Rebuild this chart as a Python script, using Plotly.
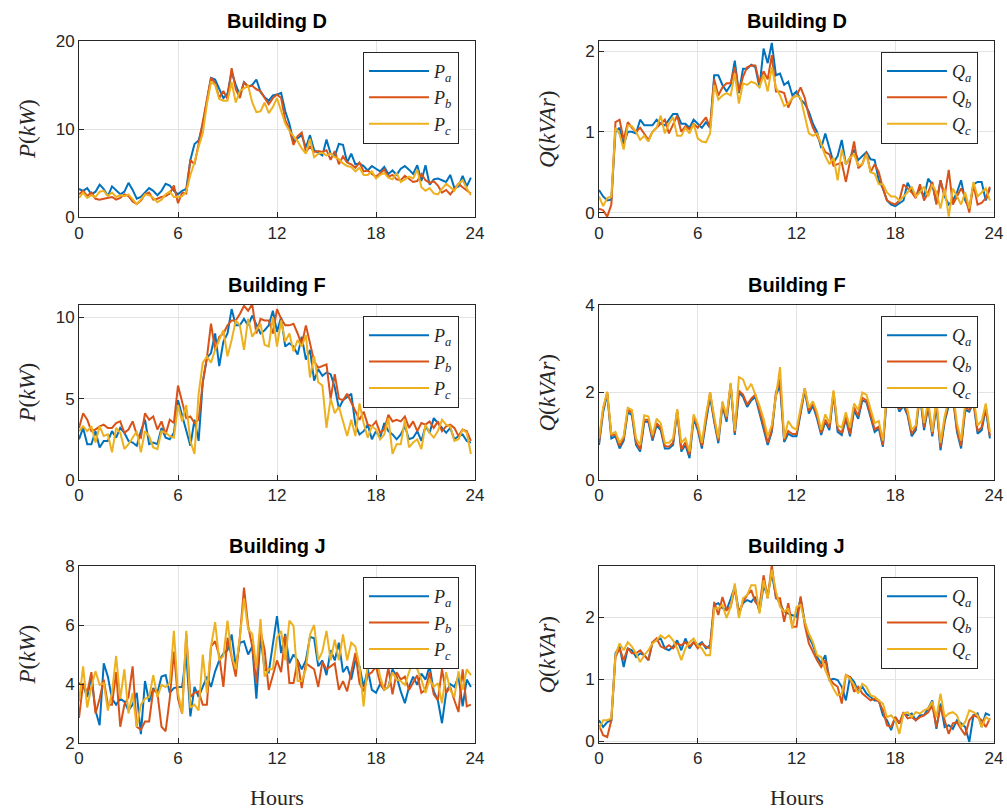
import plotly.graph_objects as go

hours = [i * 0.25 for i in range(96)]

# ---------------- Building D ----------------
pa_d = [3.2, 3.0, 3.3, 2.6, 2.9, 3.7, 3.2, 2.4, 3.5, 3.0, 2.6, 2.9, 3.9, 3.1, 2.1, 2.3, 2.8, 3.3, 3.0, 2.5, 3.0, 3.8, 3.6, 3.0,
        2.6, 3.0, 3.2, 6.5, 8.3, 8.7, 10.5, 13.0, 15.8, 15.6, 14.5, 13.5, 14.0, 16.5, 15.0, 13.8, 15.3, 14.8, 15.0, 15.6, 14.2, 13.6, 13.2, 13.8,
        13.9, 14.1, 12.0, 10.6, 8.6, 8.9, 9.3, 7.9, 9.3, 7.6, 7.3, 7.0, 8.8, 7.2, 6.9, 8.3, 8.2, 6.2, 7.2, 6.0, 6.1, 5.8, 5.3, 5.8,
        5.5, 5.2, 5.7, 4.9, 5.3, 4.8, 5.5, 5.8, 5.4, 4.9, 5.9, 4.1, 5.9, 3.7, 4.3, 4.4, 4.2, 4.0, 4.8, 3.3, 3.5, 4.7, 3.5, 4.5]
pb_d = [2.6, 3.0, 2.4, 2.8, 2.1, 2.0, 2.1, 2.2, 2.3, 2.0, 2.2, 2.6, 2.4, 1.8, 1.5, 1.9, 2.6, 2.8, 2.0, 2.1, 2.3, 2.4, 2.7, 3.6,
        1.6, 2.8, 2.7, 6.5, 6.0, 8.3, 10.8, 13.5, 15.8, 15.2, 13.5, 14.3, 13.4, 16.9, 14.5, 13.5, 15.3, 14.8, 14.9, 14.5, 14.3, 13.5, 12.8, 13.5,
        13.9, 13.5, 11.0, 10.0, 8.2, 9.2, 9.6, 7.4, 8.0, 7.4, 7.5, 7.4, 7.6, 6.5, 7.5, 6.0, 6.9, 6.2, 6.0, 5.6, 6.2, 5.2, 5.3, 4.9,
        4.6, 5.0, 5.4, 4.6, 4.8, 4.3, 4.2, 4.7, 4.3, 4.0, 4.1, 4.9, 4.2, 3.9, 4.1, 3.6, 2.8, 3.1, 2.6, 3.2, 3.8, 3.4, 3.1, 2.7]
pc_d = [2.2, 2.8, 2.2, 2.5, 2.3, 2.9, 3.0, 2.4, 2.8, 2.3, 2.5, 2.4, 2.6, 2.0, 1.5, 2.0, 2.6, 2.5, 2.2, 1.7, 2.0, 2.6, 2.9, 2.3,
        2.3, 2.4, 2.9, 4.8, 6.2, 8.0, 9.5, 12.8, 15.3, 15.0, 13.4, 13.2, 13.2, 15.3, 13.0, 14.3, 14.6, 14.9, 13.0, 11.9, 12.0, 13.0, 11.8, 12.5,
        13.5, 12.0, 10.6, 9.8, 9.2, 8.6, 7.8, 7.2, 8.9, 6.8, 7.2, 7.3, 7.0, 7.2, 6.8, 6.6, 6.1, 5.8, 5.7, 5.2, 5.6, 4.8, 4.8, 5.2,
        4.4, 4.8, 5.0, 4.5, 4.3, 5.0, 4.0, 4.3, 4.6, 4.4, 5.4, 3.4, 3.0, 3.3, 2.7, 2.6, 3.2, 3.8, 3.4, 3.0, 3.8, 4.2, 3.3, 2.5]
qa_d = [0.28, 0.20, 0.15, 0.16, 1.00, 1.05, 0.85, 1.00, 1.00, 0.98, 1.15, 1.08, 1.08, 1.08, 1.15, 1.10, 1.08, 1.15, 1.22, 1.22, 1.10, 1.10, 1.05, 1.15,
        1.10, 1.05, 1.12, 1.05, 1.70, 1.70, 1.58, 1.50, 1.58, 1.88, 1.48, 1.78, 1.78, 1.83, 1.80, 1.55, 2.03, 1.85, 2.10, 1.70, 1.72, 1.58, 1.62, 1.45,
        1.50, 1.40, 1.35, 1.25, 1.10, 1.00, 0.80, 0.98, 0.80, 0.62, 0.70, 0.90, 0.60, 0.68, 0.78, 0.65, 0.70, 0.75, 0.66, 0.65, 0.40, 0.30, 0.15, 0.10,
        0.08, 0.12, 0.15, 0.37, 0.27, 0.20, 0.30, 0.20, 0.42, 0.35, 0.12, 0.40, 0.20, 0.10, 0.15, 0.25, 0.40, 0.15, 0.05, 0.35, 0.38, 0.38, 0.15, 0.30]
qb_d = [0.05, 0.03, -0.05, 0.10, 1.12, 1.15, 0.90, 1.12, 1.05, 1.00, 1.05, 0.98, 0.90, 1.00, 1.05, 1.10, 1.15, 0.98, 1.10, 1.20, 1.00, 1.07, 1.03, 1.10,
        1.05, 1.12, 1.18, 1.05, 1.65, 1.45, 1.55, 1.60, 1.60, 1.80, 1.50, 1.68, 1.80, 1.82, 1.82, 1.60, 1.75, 1.65, 1.95, 1.50, 1.50, 1.48, 1.30, 1.42,
        1.45, 1.55, 1.42, 1.20, 1.05, 0.95, 0.85, 0.75, 0.72, 0.58, 0.60, 0.62, 0.38, 0.65, 0.88, 0.55, 0.60, 0.75, 0.50, 0.60, 0.50, 0.30, 0.15, 0.12,
        0.10, 0.15, 0.35, 0.30, 0.25, 0.18, 0.35, 0.15, 0.25, 0.38, 0.10, 0.40, 0.20, 0.53, 0.10, 0.20, 0.30, 0.20, 0.00, 0.35, 0.10, 0.12, 0.18, 0.32]
qc_d = [0.20, 0.08, 0.18, 0.20, 1.05, 0.97, 0.78, 1.08, 1.07, 1.00, 0.90, 0.95, 0.88, 1.00, 1.05, 1.20, 0.98, 1.10, 1.18, 0.95, 0.95, 1.05, 0.98, 1.10,
        0.92, 0.88, 0.87, 0.98, 1.58, 1.40, 1.45, 1.48, 1.45, 1.72, 1.35, 1.60, 1.58, 1.62, 1.60, 1.55, 1.70, 1.50, 1.80, 1.55, 1.45, 1.32, 1.35, 1.42,
        1.45, 1.42, 1.20, 0.98, 0.95, 0.98, 0.85, 0.70, 0.60, 0.68, 0.40, 0.78, 0.60, 0.68, 0.72, 0.58, 0.60, 0.72, 0.50, 0.48, 0.35, 0.35, 0.25, 0.20,
        0.20, 0.15, 0.20, 0.25, 0.32, 0.20, 0.25, 0.32, 0.20, 0.35, 0.25, 0.05, 0.30, -0.05, 0.30, 0.20, 0.10, 0.25, 0.05, 0.38, 0.20, 0.25, 0.30, 0.15]

# ---------------- Building F ----------------
pa_f = [2.5, 3.2, 2.2, 2.2, 3.0, 2.0, 2.4, 2.4, 3.0, 2.6, 3.2, 2.9, 2.4, 2.3, 2.1, 3.0, 3.7, 2.2, 2.3, 2.2, 3.2, 2.6, 2.5, 2.9,
        4.9, 4.0, 3.0, 2.1, 3.7, 2.4, 6.0, 7.5, 7.8, 9.0, 7.0, 8.5, 9.0, 10.5, 9.5, 9.5, 9.9, 9.5, 10.1, 9.6, 9.0, 9.2, 9.5, 10.4,
        9.1, 10.0, 8.2, 8.4, 8.2, 7.7, 8.8, 7.4, 8.0, 6.1, 6.8, 6.4, 6.6, 6.5, 5.7, 4.4, 4.9, 5.1, 5.3, 3.4, 2.8, 3.0, 3.4, 2.5,
        3.0, 2.6, 3.5, 3.0, 2.8, 2.5, 2.8, 3.3, 2.5, 2.6, 3.0, 2.4, 3.3, 2.9, 3.8, 3.5, 3.2, 2.9, 3.2, 2.5, 2.7, 2.8, 2.4, 2.3]
pb_f = [3.2, 4.1, 3.7, 3.0, 3.1, 3.3, 3.4, 3.2, 3.2, 3.5, 3.6, 2.9, 3.1, 3.6, 2.8, 2.6, 4.1, 3.7, 3.9, 3.1, 3.6, 2.8, 3.7, 3.5,
        5.8, 4.8, 3.8, 3.9, 3.5, 3.7, 6.0, 7.5, 9.6, 8.0, 8.8, 9.0, 9.5, 9.8, 9.8, 10.2, 10.7, 10.4, 10.8, 9.0, 9.9, 9.8, 9.8, 9.0,
        10.5, 9.9, 9.5, 9.5, 9.6, 9.0, 8.3, 9.5, 8.3, 7.3, 6.9, 7.0, 7.1, 5.0, 6.5, 5.0, 4.9, 5.3, 4.8, 4.2, 3.7, 4.2, 3.4, 3.3,
        3.6, 2.9, 3.1, 4.0, 3.6, 3.7, 3.6, 3.9, 3.2, 3.6, 3.0, 3.5, 3.4, 3.6, 3.2, 3.6, 3.0, 3.3, 3.4, 3.2, 2.7, 3.1, 3.0, 2.4]
pc_f = [3.0, 3.3, 3.0, 3.3, 2.3, 3.3, 2.7, 2.8, 1.7, 3.2, 2.9, 1.9, 2.2, 2.6, 3.0, 1.7, 3.0, 2.7, 2.0, 1.9, 3.0, 2.9, 2.7, 2.6,
        4.6, 3.6, 4.6, 2.4, 1.6, 5.3, 7.2, 7.6, 7.2, 8.0, 8.6, 9.2, 7.6, 8.6, 9.8, 9.5, 8.0, 9.9, 8.8, 9.2, 9.6, 8.3, 8.2, 10.0,
        8.2, 9.8, 8.5, 9.0, 7.9, 8.6, 8.2, 8.9, 6.3, 7.6, 6.0, 5.8, 3.2, 5.0, 4.1, 4.5, 3.6, 2.7, 3.7, 2.7, 4.7, 3.5, 2.6, 3.3,
        3.1, 2.5, 2.8, 3.8, 1.6, 2.2, 2.2, 3.7, 2.0, 2.3, 2.5, 1.9, 3.4, 2.9, 2.6, 3.0, 3.7, 3.4, 3.3, 2.4, 2.5, 3.1, 2.9, 1.6]
qa_f = [0.80, 1.55, 1.97, 0.95, 1.00, 0.72, 0.90, 1.55, 1.48, 0.80, 0.65, 1.33, 1.33, 0.90, 1.25, 1.14, 0.72, 0.72, 0.80, 1.57, 0.65, 0.80, 0.50, 1.40,
        1.14, 0.72, 1.33, 1.90, 1.33, 0.84, 1.70, 1.33, 2.16, 1.03, 2.00, 1.90, 1.67, 1.82, 1.90, 1.55, 1.18, 0.80, 1.10, 1.94, 2.16, 0.87, 1.06, 1.00,
        1.00, 1.50, 2.05, 1.52, 1.70, 1.40, 1.03, 1.33, 1.14, 1.98, 1.10, 1.03, 1.40, 1.00, 1.60, 1.40, 1.82, 1.78, 1.44, 1.10, 1.18, 0.76, 1.94, 2.20,
        1.86, 1.56, 1.70, 1.48, 1.00, 1.14, 1.94, 1.14, 1.67, 1.00, 1.70, 0.68, 1.33, 1.70, 1.90, 1.10, 0.72, 1.60, 1.56, 1.78, 1.06, 1.14, 1.63, 0.95]
qb_f = [0.85, 1.62, 2.00, 1.02, 1.04, 0.78, 0.95, 1.62, 1.53, 0.86, 0.70, 1.38, 1.38, 0.95, 1.30, 1.20, 0.78, 0.76, 0.85, 1.60, 0.70, 0.86, 0.58, 1.45,
        1.20, 0.78, 1.40, 2.00, 1.38, 0.90, 1.75, 1.40, 2.20, 1.08, 2.04, 1.95, 1.72, 1.86, 1.95, 1.62, 1.25, 0.85, 1.15, 2.00, 2.30, 0.92, 1.12, 1.05,
        1.05, 1.55, 2.10, 1.58, 1.75, 1.46, 1.08, 1.38, 1.20, 2.02, 1.16, 1.08, 1.45, 1.05, 1.66, 1.46, 1.88, 1.82, 1.50, 1.16, 1.22, 0.80, 2.00, 2.25,
        1.90, 1.62, 1.75, 1.52, 1.05, 1.20, 2.00, 1.20, 1.72, 1.05, 1.76, 0.75, 1.38, 1.76, 1.95, 1.16, 0.78, 1.66, 1.60, 1.84, 1.12, 1.20, 1.70, 1.00]
qc_f = [0.95, 1.65, 2.02, 1.05, 1.10, 0.85, 1.00, 1.65, 1.60, 0.95, 0.80, 1.48, 1.45, 1.02, 1.40, 1.30, 0.85, 0.85, 0.95, 1.62, 0.85, 0.95, 0.65, 1.50,
        1.28, 0.85, 1.50, 2.00, 1.45, 0.95, 1.80, 1.45, 2.22, 1.12, 2.35, 2.30, 2.05, 2.20, 1.95, 1.70, 1.40, 1.00, 1.25, 1.95, 2.58, 0.95, 1.35, 1.20,
        1.15, 1.65, 2.10, 1.65, 1.80, 1.55, 1.15, 1.50, 1.30, 2.05, 1.25, 1.20, 1.55, 1.20, 1.75, 1.60, 2.00, 1.95, 1.62, 1.30, 1.35, 0.90, 2.05, 2.35,
        2.00, 1.70, 1.85, 1.60, 1.15, 1.25, 2.05, 1.30, 1.80, 1.10, 1.85, 0.85, 1.45, 1.85, 2.00, 1.30, 0.90, 1.75, 1.70, 1.90, 1.25, 1.35, 1.75, 1.10]

# ---------------- Building J ----------------
pa_j = [4.03, 3.95, 3.56, 4.25, 3.1, 2.6, 4.7, 4.25, 3.5, 3.3, 3.5, 3.4, 3.1, 3.3, 3.7, 2.3, 4.1, 3.4, 3.86, 3.7, 4.25, 4.3, 3.7, 3.86,
        3.9, 3.9, 5.03, 2.9, 3.9, 3.56, 3.9, 4.25, 3.9, 4.43, 4.8, 5.03, 5.15, 5.68, 4.6, 5.4, 5.45, 5.0, 5.27, 3.5, 5.6, 4.5, 4.4, 5.4,
        6.3, 5.05, 5.7, 4.7, 5.0, 4.8, 4.5, 4.8, 5.6, 5.55, 4.6, 4.8, 4.3, 5.15, 4.8, 5.4, 4.4, 4.6, 4.15, 4.8, 4.6, 3.9, 4.5, 3.8,
        3.7, 4.0, 3.8, 3.9, 4.5, 4.25, 3.75, 3.35, 3.9, 4.25, 3.97, 4.35, 4.15, 4.6, 3.75, 3.45, 2.67, 3.7, 4.0, 3.9, 4.25, 3.24, 4.15, 3.9]
pb_j = [2.85, 4.03, 3.7, 4.4, 3.0, 3.5, 4.15, 3.3, 3.3, 4.4, 2.55, 3.3, 3.56, 4.6, 2.55, 2.45, 2.73, 2.73, 3.8, 3.7, 2.55, 2.4, 3.5, 5.1,
        3.5, 3.0, 5.7, 3.56, 3.7, 3.75, 3.3, 3.3, 5.27, 5.45, 4.95, 3.9, 5.57, 4.95, 4.25, 5.6, 7.27, 5.97, 5.27, 4.03, 5.8, 5.15, 3.8, 4.3,
        4.8, 4.4, 5.65, 4.03, 4.03, 4.8, 3.86, 4.7, 4.6, 4.5, 3.9, 4.75, 4.5, 4.6, 4.7, 3.8, 4.1, 3.75, 4.4, 5.05, 4.03, 3.75, 4.3, 4.4,
        4.6, 4.03, 3.8, 4.55, 3.65, 4.4, 4.15, 4.25, 3.8, 4.03, 4.3, 3.7, 3.8, 4.4, 3.65, 3.45, 4.5, 3.7, 3.9, 3.45, 3.05, 4.5, 3.24, 3.3]
pc_j = [3.4, 4.6, 3.2, 3.9, 4.43, 3.97, 4.03, 3.1, 3.7, 4.95, 3.5, 4.5, 3.0, 3.7, 2.55, 3.3, 3.5, 3.56, 4.3, 3.56, 3.97, 3.9, 4.03, 5.8,
        3.7, 3.0, 5.8, 3.2, 3.3, 3.1, 5.0, 3.7, 5.27, 6.1, 4.8, 4.95, 6.15, 4.95, 4.5, 5.6, 6.9, 5.85, 5.7, 4.55, 6.2, 4.25, 4.5, 4.5,
        5.57, 5.8, 4.8, 6.15, 5.97, 4.1, 4.1, 4.5, 5.68, 6.0, 4.8, 5.1, 5.8, 4.8, 5.5, 4.8, 5.68, 4.8, 5.4, 5.27, 4.6, 3.24, 4.7, 4.8,
        4.95, 4.25, 3.8, 3.9, 4.4, 4.15, 4.1, 3.97, 4.4, 4.8, 4.5, 4.15, 3.7, 4.15, 3.9, 4.03, 3.35, 4.4, 3.8, 3.56, 4.43, 3.8, 4.5, 4.3]
qa_j = [0.34, 0.23, 0.31, 0.34, 1.42, 1.53, 1.2, 1.5, 1.47, 1.36, 1.42, 1.39, 1.31, 1.6, 1.63, 1.66, 1.5, 1.47, 1.53, 1.63, 1.47, 1.66, 1.5, 1.6,
        1.55, 1.6, 1.5, 1.55, 2.2, 2.23, 2.15, 2.12, 2.3, 2.5, 2.09, 2.23, 2.28, 2.25, 2.33, 2.09, 2.5, 2.36, 2.71, 2.33, 2.23, 2.09, 2.06, 2.04,
        2.01, 2.31, 1.93, 1.69, 1.55, 1.36, 1.26, 1.39, 0.99, 1.01, 0.99, 0.88, 0.66, 1.04, 0.96, 0.8, 0.88, 0.77, 0.72, 0.66, 0.66, 0.42, 0.34, 0.18,
        0.39, 0.29, 0.45, 0.42, 0.45, 0.34, 0.42, 0.42, 0.53, 0.66, 0.2, 0.61, 0.23, 0.26, 0.2, 0.34, 0.29, 0.23, -0.01, 0.42, 0.45, 0.23, 0.45, 0.42]
qb_j = [0.26, 0.1, 0.07, 0.34, 1.36, 1.5, 1.31, 1.5, 1.42, 1.42, 1.47, 1.39, 1.31, 1.6, 1.66, 1.53, 1.5, 1.55, 1.5, 1.58, 1.55, 1.6, 1.53, 1.6,
        1.5, 1.58, 1.53, 1.5, 2.25, 2.04, 2.33, 2.12, 2.17, 2.47, 2.04, 2.25, 2.36, 2.44, 2.25, 2.17, 2.68, 2.31, 2.85, 2.31, 2.31, 1.93, 2.23, 1.85,
        1.85, 2.34, 1.88, 1.58, 1.44, 1.31, 1.2, 1.31, 1.01, 0.93, 0.88, 0.61, 1.07, 1.04, 0.8, 0.88, 0.77, 0.72, 0.66, 0.69, 0.64, 0.5, 0.26, 0.23,
        0.39, 0.29, 0.47, 0.37, 0.39, 0.34, 0.39, 0.42, 0.47, 0.58, 0.23, 0.56, 0.34, 0.12, 0.29, 0.31, 0.2, 0.1, 0.34, 0.42, 0.39, 0.34, 0.23, 0.37]
qc_j = [0.2, 0.34, 0.34, 0.37, 1.39, 1.58, 1.47, 1.6, 1.53, 1.42, 1.28, 1.39, 1.47, 1.58, 1.63, 1.71, 1.66, 1.71, 1.63, 1.5, 1.31, 1.5, 1.6, 1.66,
        1.55, 1.5, 1.39, 1.39, 2.15, 2.15, 2.2, 1.99, 2.17, 2.55, 1.99, 2.31, 2.36, 2.52, 2.52, 2.06, 2.6, 2.31, 2.77, 2.42, 2.17, 2.09, 2.15, 1.82,
        2.17, 2.2, 1.93, 1.74, 1.6, 1.39, 1.36, 1.15, 0.99, 0.85, 0.74, 0.77, 1.07, 1.01, 0.91, 0.77, 0.93, 0.88, 0.74, 0.72, 0.66, 0.61, 0.39, 0.42,
        0.34, 0.12, 0.45, 0.47, 0.39, 0.47, 0.45, 0.5, 0.53, 0.64, 0.39, 0.77, 0.39, 0.45, 0.47, 0.42, 0.23, 0.31, 0.5, 0.47, 0.42, 0.23, 0.39, 0.34]

titles = ["Building D", "Building D", "Building F", "Building F", "Building J", "Building J"]
x_ticks = [0, 6, 12, 18, 24]
y_ranges = [[0, 20], [-0.058, 2.128], [0, 10.75], [0, 4], [2, 8], [-0.027, 2.83]]
y_ticks = [[0, 10, 20], [0, 1, 2], [0, 5, 10], [0, 2, 4], [2, 4, 6, 8], [0, 1, 2]]
series = [(pa_d, pb_d, pc_d), (qa_d, qb_d, qc_d), (pa_f, pb_f, pc_f),
          (qa_f, qb_f, qc_f), (pa_j, pb_j, pc_j), (qa_j, qb_j, qc_j)]
colors = ["#0072BD", "#D95319", "#EDB120"]
phases = ["a", "b", "c"]

W, H = 1007, 812
col_px = [(79, 475), (599, 994)]
row_px = [(40.7, 217.3), (305, 480), (566, 743)]

fig = go.Figure()
layout = dict(width=W, height=H, margin=dict(l=0, r=0, t=0, b=0, autoexpand=False),
              paper_bgcolor="white", plot_bgcolor="white", showlegend=True,
              template="none")
annotations = []
serif = "Liberation Serif, DejaVu Serif, serif"
sans = "Liberation Sans, Arial, sans-serif"

for k in range(6):
    r, c = divmod(k, 2)
    x0, x1 = col_px[c]
    yt, yb = row_px[r]
    sfx = "" if k == 0 else str(k + 1)
    leg = "legend" if k == 0 else "legend" + str(k + 1)
    sym = "P" if c == 0 else "Q"
    for s, ph, col in zip(series[k], phases, colors):
        fig.add_trace(go.Scatter(
            x=hours, y=s, mode="lines", line=dict(color=col, width=2),
            name="<i>%s</i><sub><i>%s</i></sub>" % (sym, ph),
            xaxis="x" + sfx, yaxis="y" + sfx, legend=leg, cliponaxis=True))
    axis_common = dict(showline=True, linecolor="#262626", linewidth=1, mirror=True,
                       ticks="inside", ticklen=5, tickcolor="#262626", automargin=False,
                       showgrid=True, gridcolor="#e3e3e3", gridwidth=1, zeroline=False,
                       tickfont=dict(family=sans, size=17, color="#262626"))
    layout["xaxis" + sfx] = dict(axis_common, domain=[x0 / W, x1 / W], range=[0, 24],
                                 tickvals=x_ticks, anchor="y" + sfx)
    layout["yaxis" + sfx] = dict(axis_common, domain=[1 - yb / H, 1 - yt / H],
                                 range=y_ranges[k], tickvals=y_ticks[k], anchor="x" + sfx)
    layout[leg] = dict(x=(x1 - 16) / W, y=1 - (yt + 11) / H, xanchor="right", yanchor="top",
                       xref="paper", yref="paper",
                       bgcolor="white", bordercolor="#262626", borderwidth=1,
                       font=dict(family=serif, size=18, color="#262626"),
                       tracegroupgap=0, itemwidth=60)
    # title
    annotations.append(dict(text="<b>%s</b>" % titles[k], x=(x0 + x1) / 2 / W, y=1 - (yt - 20) / H,
                            xref="paper", yref="paper", showarrow=False, xanchor="center", yanchor="middle",
                            font=dict(family=sans, size=20, color="black")))
    # y label
    ylab = "<i>P</i>(<i>kW</i>)" if c == 0 else "<i>Q</i>(<i>kVAr</i>)"
    annotations.append(dict(text=ylab, x=(x0 - 52) / W, y=1 - (yt + yb) / 2 / H,
                            xref="paper", yref="paper", showarrow=False, textangle=-90,
                            xanchor="center", yanchor="middle",
                            font=dict(family=serif, size=23, color="#262626")))
    if r == 2:
        annotations.append(dict(text="Hours", x=(x0 + x1) / 2 / W, y=1 - 797 / H,
                                xref="paper", yref="paper", showarrow=False,
                                xanchor="center", yanchor="middle",
                                font=dict(family=serif, size=22, color="#262626")))

layout["annotations"] = annotations
fig.update_layout(**layout)
fig.write_html("out.html", config={"displayModeBar": False},
               post_script="document.body.style.margin='0';document.body.style.overflow='hidden';")
